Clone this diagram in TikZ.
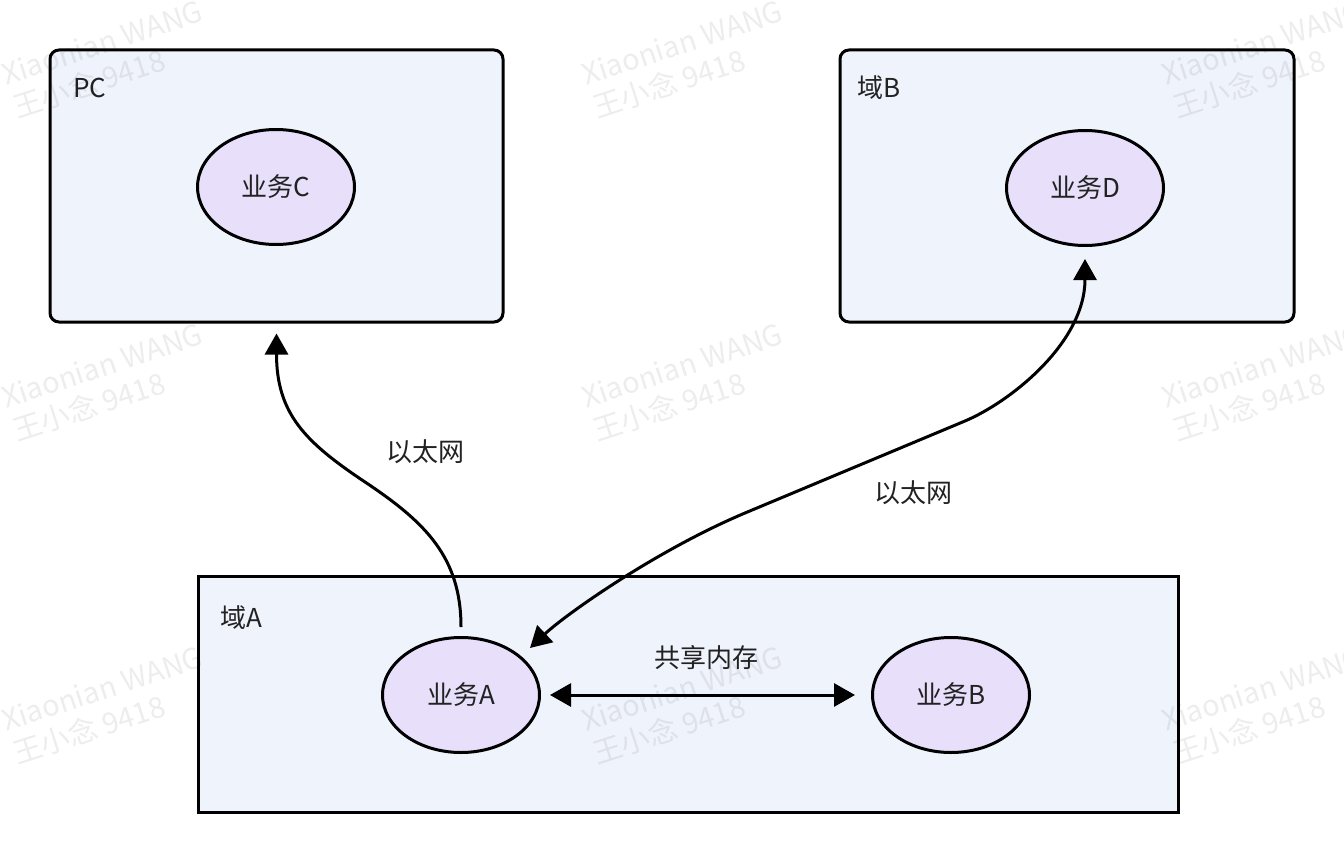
\documentclass[tikz,border=0pt]{standalone}
\usepackage{fontspec}
\setmainfont{Noto Sans CJK SC}
\usetikzlibrary{shapes.geometric,arrows.meta,calc}
\definecolor{boxfill}{HTML}{EFF3FC}
\definecolor{ellfill}{HTML}{E8E0FA}
\definecolor{txt}{HTML}{222222}
\begin{document}
\begin{tikzpicture}[x=1pt,y=-1pt,
  grp/.style={draw=black,line width=3pt,fill=boxfill,rounded corners=9pt,minimum width=#1,inner sep=0pt},
  svc/.style={ellipse,draw=black,line width=3pt,fill=ellfill,minimum width=157pt,minimum height=115pt,inner sep=0pt,text=txt,font=\fontsize{26}{30}\selectfont},
  lbl/.style={text=txt,font=\fontsize{26}{30}\selectfont,inner sep=0pt},
  arr/.style={line width=3pt,-{Triangle[length=21pt,width=23pt]}},
  arrb/.style={line width=3pt,{Triangle[length=21pt,width=23pt]}-{Triangle[length=21pt,width=23pt]}},
  wm/.style={align=left,rotate=18,text=black,text opacity=0.07,font=\fontsize{29}{35}\selectfont,inner sep=0pt}]
\useasboundingbox (0,0) rectangle (1344,864);
\fill[white] (0,0) rectangle (1344,864);
% groups
\node[grp=453pt,minimum height=272pt] (PC) at (276.5,186) {};
\node[grp=454pt,minimum height=272pt] (GB) at (1067,186) {};
\node[grp=980pt,minimum height=236pt,rounded corners=0pt] (GA) at (688,694) {};
\node[lbl,anchor=west] (PCl) at (73,88) {PC};
\node[lbl,anchor=west] (GBl) at (857,88) {域B};
\node[lbl,anchor=west] (GAl) at (220,618) {域A};
% services
\node[svc] (C) at (276,187) {业务C};
\node[svc] (D) at (1085,188) {业务D};
\node[svc] (A) at (461,695) {业务A};
\node[svc] (B) at (951,695) {业务B};
% connectors
\coordinate (m1) at (365,482);
\draw[arr] ($(A.north)+(0,-9)$) .. controls +(0,-70) and +(60,40) .. (m1)
  .. controls +(-60,-40) and +(0,80) .. ($(PC.south)+(0,10)$);
\node[lbl] (e1) at (425,452) {以太网};
\coordinate (k1) at (965,421);
\coordinate (k2) at (745,513);
\draw[arrb] ($(D.south)+(0,12)$) .. controls +(0,84) and ($(k1)+(45,-19)$) .. (k1)
  -- (k2) .. controls +(-90,38) and +(35,-33) .. ($(A.center)+(69,-47)$);
\node[lbl] (e2) at (913,493) {以太网};
\draw[arrb] ($(A.east)+(9,0)$) -- ($(B.west)+(-16,0)$);
\node[lbl] (sm) at (706,658) {共享内存};
% watermarks
\foreach \cx in {108,688,1268}{
  \foreach \cy in {60,383,706}{
    \node[wm] at (\cx,\cy) {Xiaonian WANG\\王小念 9418};
  }
}
\end{tikzpicture}
\end{document}
